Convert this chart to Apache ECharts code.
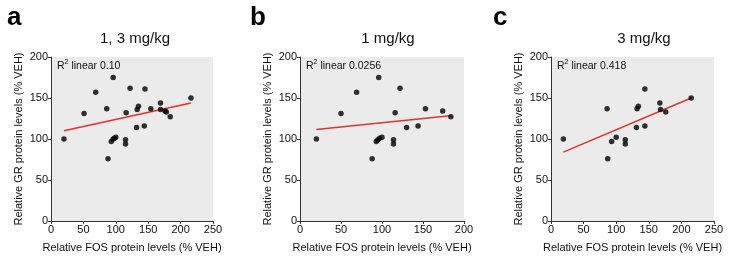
<!DOCTYPE html>
<html>
<head>
<meta charset="utf-8">
<script src="https://cdn.jsdelivr.net/npm/echarts@6/dist/echarts.min.js"></script>
<style>
  html, body { margin: 0; padding: 0; background: #fff; }
  #chart { width: 729px; height: 259px; }
</style>
</head>
<body>
<div id="chart"></div>
<script>
// panel a: 1, 3 mg/kg (pooled)
const fosA = [20, 51, 69, 86, 96, 88, 93, 96, 98, 100, 116, 122, 115, 115, 132, 133, 135, 145, 144, 154, 169, 169, 176, 178, 184, 216]
const grA = [100, 131, 157, 137, 175, 76, 97, 100, 101, 102, 132, 162, 99, 94, 114, 136, 140, 161, 116, 137, 144, 136, 134, 133, 127, 150]
const fitA = [[20, 110], [216, 144]]

// panel b: 1 mg/kg
const fosB = [20, 50, 69, 96, 88, 93, 95, 97, 100, 116, 122, 114, 114, 130, 144, 153, 174, 184]
const grB = [100, 131, 157, 175, 76, 97, 99, 101, 102, 132, 162, 99, 94, 114, 116, 137, 134, 127]
const fitB = [[20, 111.5], [183, 128.5]]

// panel c: 3 mg/kg
const fosC = [19, 86, 87, 93, 100, 114, 114, 131, 132, 134, 144, 144, 167, 168, 176, 215]
const grC = [100, 137, 76, 97, 102, 99, 94, 114, 137, 140, 161, 116, 144, 136, 133, 150]
const fitC = [[19, 84], [215, 150]]

const titles = ['1, 3 mg/kg', '1 mg/kg', '3 mg/kg']
const letters = ['a', 'b', 'c']
const r2Labels = ['0.10', '0.0256', '0.418']
const xMax = [250, 200, 250]

const zip = (xs, ys) => xs.map((x, i) => [x, ys[i]])
const pts = [zip(fosA, grA), zip(fosB, grB), zip(fosC, grC)]
const fits = [fitA, fitB, fitC]

const grids = [
  { left: 51, top: 57, width: 162, height: 164 },
  { left: 300, top: 57, width: 164, height: 164 },
  { left: 551, top: 57, width: 163, height: 164 }
]
const titleX = [130, 383, 639]
const letterX = [2, 245, 488]

const FONT = '"Liberation Sans", Arial, sans-serif'
const axisCol = '#333'

const axisCommon = {
  axisLine: { show: true, lineStyle: { color: axisCol, width: 1 } },
  axisTick: { show: true, inside: false, length: 3, lineStyle: { color: axisCol } },
  splitLine: { show: false },
  axisLabel: { color: '#111', fontSize: 11, fontFamily: FONT, margin: 3 },
  nameTextStyle: { color: '#111', fontSize: 11, fontFamily: FONT }
}

const chart = echarts.init(document.getElementById('chart'), null, { renderer: 'canvas' })

const option = {
  animation: false,
  backgroundColor: '#fff',
  title: [],
  grid: grids.map(g => Object.assign({ show: true, backgroundColor: '#ebebeb', borderWidth: 0, containLabel: false }, g)),
  xAxis: [],
  yAxis: [],
  series: []
}

for (let i = 0; i < 3; i++) {
  option.title.push({
    text: letters[i], left: letterX[i], top: 0,
    textStyle: { fontSize: 26, fontWeight: 'bold', color: '#000', fontFamily: FONT }
  })
  option.title.push({
    text: titles[i], left: titleX[i], top: 26, textAlign: 'center',
    textStyle: { fontSize: 15, fontWeight: 'normal', color: '#111', fontFamily: FONT }
  })
  option.title.push({
    text: '{r|R}{s|2}{r| linear ' + r2Labels[i] + '}',
    left: grids[i].left + 6, top: 59, padding: 0,
    textStyle: {
      fontWeight: 'normal',
      rich: {
        r: { fontSize: 10.5, fontWeight: 'normal', color: '#111', fontFamily: FONT, verticalAlign: 'bottom', lineHeight: 13 },
        s: { fontSize: 7, fontWeight: 'normal', color: '#111', fontFamily: FONT, verticalAlign: 'top', lineHeight: 13 }
      }
    }
  })
  option.xAxis.push(Object.assign({}, axisCommon, {
    gridIndex: i, type: 'value', min: 0, max: xMax[i], interval: 50,
    name: 'Relative FOS protein levels (% VEH)', nameLocation: 'middle', nameGap: 21
  }))
  option.yAxis.push(Object.assign({}, axisCommon, {
    gridIndex: i, type: 'value', min: 0, max: 200, interval: 50,
    name: 'Relative GR protein levels (% VEH)', nameLocation: 'middle', nameGap: 27
  }))
  option.series.push({
    type: 'line', xAxisIndex: i, yAxisIndex: i, data: fits[i],
    symbol: 'none', lineStyle: { color: '#e2332a', width: 1.5 }, z: 2
  })
  option.series.push({
    type: 'scatter', xAxisIndex: i, yAxisIndex: i, data: pts[i],
    symbolSize: 5.5, itemStyle: { color: '#000' }, z: 3
  })
}

chart.setOption(option)
</script>
</body>
</html>
